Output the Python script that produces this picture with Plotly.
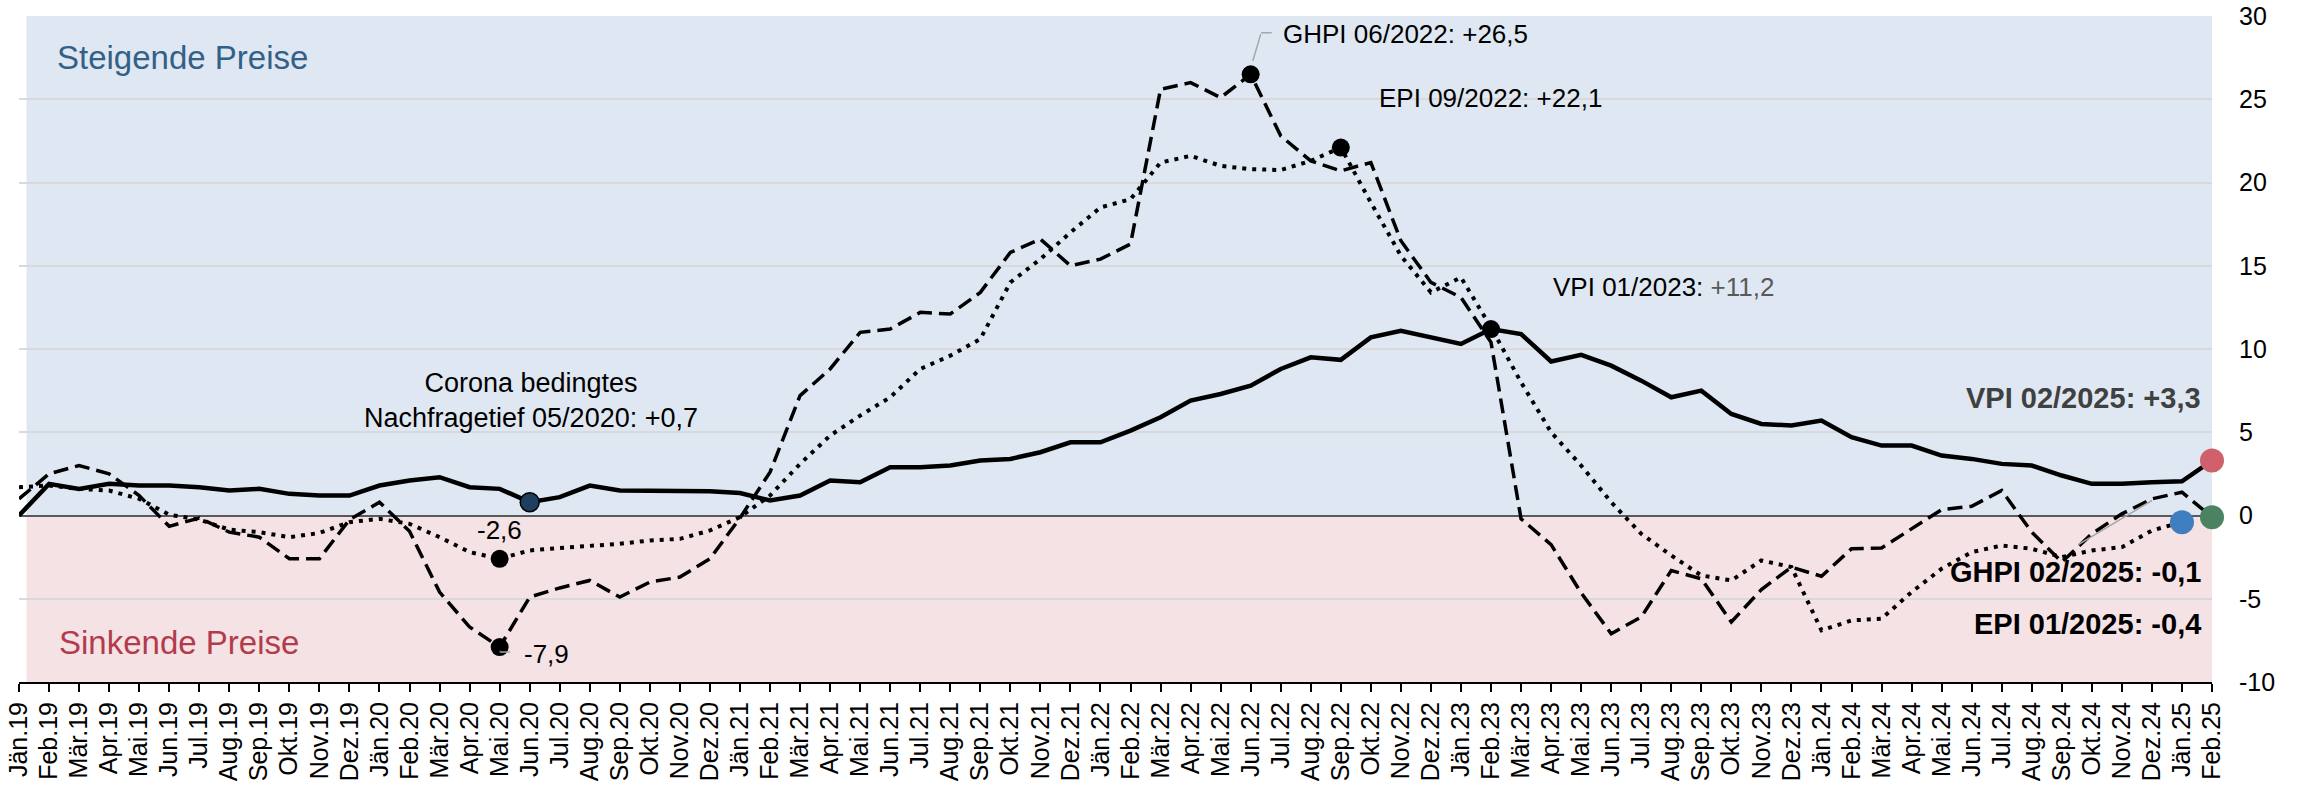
import plotly.graph_objects as go

# Monatsachse Jän.19 - Feb.25
months = ['Jän', 'Feb', 'Mär', 'Apr', 'Mai', 'Jun', 'Jul', 'Aug', 'Sep', 'Okt', 'Nov', 'Dez']
labels = [m + '.' + str(y) for y in range(19, 25) for m in months] + ['Jän.25', 'Feb.25']
xpos = list(range(len(labels)))

# Verbraucherpreisindex (VPI), Veränderung zum Vorjahr in %
vpi = [0.0, 1.9, 1.6, 1.9, 1.8, 1.8, 1.7, 1.5, 1.6, 1.3, 1.2, 1.2,
       1.8, 2.1, 2.3, 1.7, 1.6, 0.8, 1.1, 1.8, 1.5, 1.5, 1.45, 1.45,
       1.35, 0.9, 1.2, 2.1, 2.0, 2.9, 2.9, 3.0, 3.3, 3.4, 3.8, 4.4,
       4.4, 5.1, 5.9, 6.9, 7.3, 7.8, 8.8, 9.5, 9.35, 10.7, 11.1, 10.7,
       10.3, 11.2, 10.9, 9.25, 9.65, 9.0, 8.1, 7.1, 7.5, 6.1, 5.5, 5.4,
       5.7, 4.7, 4.2, 4.2, 3.6, 3.4, 3.1, 3.0, 2.4, 1.9, 1.9, 2.0,
       2.05, 3.3]

# Großhandelspreisindex (GHPI)
ghpi = [1.0, 2.5, 3.0, 2.5, 1.2, -0.65, -0.15, -1.0, -1.3, -2.6, -2.6, -0.25,
        0.8, -0.95, -4.6, -6.7, -7.9, -4.9, -4.35, -3.9, -4.9, -4.0, -3.7, -2.6,
        -0.15, 2.6, 7.2, 8.8, 11.0, 11.2, 12.2, 12.1, 13.4, 15.8, 16.6, 15.0,
        15.4, 16.3, 25.6, 26.0, 25.1, 26.5, 22.8, 21.3, 20.7, 21.2, 16.5, 14.0,
        13.1, 10.4, -0.2, -1.75, -4.65, -7.1, -6.1, -3.3, -3.8, -6.4, -4.45, -3.1,
        -3.65, -2.0, -1.95, -0.8, 0.35, 0.55, 1.5, -1.0, -2.8, -1.1, 0.1, 1.0,
        1.4, -0.1]

# Erzeugerpreisindex (EPI), letzter Wert 01/2025
epi = [1.7, 1.8, 1.6, 1.5, 1.0, 0.05, -0.25, -0.85, -1.0, -1.3, -1.05, -0.4,
       -0.2, -0.5, -1.3, -2.2, -2.6, -2.1, -1.95, -1.85, -1.7, -1.5, -1.4, -0.9,
       -0.1, 1.2, 3.1, 4.8, 6.0, 7.1, 8.8, 9.6, 10.6, 14.0, 15.4, 17.0,
       18.5, 19.0, 21.2, 21.6, 21.0, 20.8, 20.75, 21.3, 22.1, 18.8, 15.6, 13.4,
       14.3, 11.3, 8.0, 5.0, 3.0, 0.8, -1.1, -2.4, -3.6, -3.9, -2.7, -3.1,
       -6.9, -6.3, -6.2, -4.6, -3.2, -2.2, -1.8, -2.0, -2.5, -2.1, -1.9, -0.9,
       -0.4, None]

yticks = [-10, -5, 0, 5, 10, 15, 20, 25, 30]
yticktext = ['-10', '-5', '0', '5', '10', '15', '20', '25', '30']

FONT = 'Liberation Sans, Arial, sans-serif'

fig = go.Figure()

fig.add_trace(go.Scatter(x=xpos, y=vpi, mode='lines', name='VPI',
                         line=dict(color='black', width=4.5)))
fig.add_trace(go.Scatter(x=xpos, y=ghpi, mode='lines', name='GHPI',
                         line=dict(color='black', width=3.5, dash='15px,7px')))
fig.add_trace(go.Scatter(x=xpos, y=epi, mode='lines', name='EPI',
                         line=dict(color='black', width=4, dash='4px,6px')))

# markierte Punkte
black_pts = [(16, epi), (16, ghpi), (41, ghpi), (44, epi), (49, vpi)]
fig.add_trace(go.Scatter(x=[p[0] for p in black_pts], y=[p[1][p[0]] for p in black_pts],
                         mode='markers', marker=dict(color='black', size=18)))
fig.add_trace(go.Scatter(x=[17], y=[vpi[17]], mode='markers',
                         marker=dict(color='#1f3f60', size=19, line=dict(color='black', width=1.5))))
fig.add_trace(go.Scatter(x=[73], y=[vpi[73]], mode='markers', cliponaxis=False,
                         marker=dict(color='#d0606b', size=24)))
fig.add_trace(go.Scatter(x=[72], y=[epi[72]], mode='markers', cliponaxis=False,
                         marker=dict(color='#3f7fc0', size=24)))
fig.add_trace(go.Scatter(x=[73], y=[ghpi[73]], mode='markers', cliponaxis=False,
                         marker=dict(color='#4a8262', size=24)))

# Hintergrund steigend / sinkend
fig.add_shape(type='rect', xref='x', yref='y', x0=0.25, x1=73, y0=0, y1=30,
              fillcolor='#dfe8f2', line_width=0, layer='below')
fig.add_shape(type='rect', xref='x', yref='y', x0=0.25, x1=73, y0=-10, y1=0,
              fillcolor='#f5e2e5', line_width=0, layer='below')

ann = dict(font=dict(family=FONT, size=26, color='black'), showarrow=False)
fig.add_annotation(x=1.2, y=27.5, text='Steigende Preise', xanchor='left',
                   font=dict(family=FONT, size=33, color='#336088'), showarrow=False)
fig.add_annotation(x=1.25, y=-7.6, text='Sinkende Preise', xanchor='left',
                   font=dict(family=FONT, size=33, color='#b23c4c'), showarrow=False)
fig.add_annotation(x=17.03, y=6.9, text='Corona bedingtes<br>Nachfragetief 05/2020: +0,7',
                   align='center', font=dict(family=FONT, size=27, color='black'),
                   showarrow=False)
fig.add_annotation(x=42.0, y=28.9, text='GHPI 06/2022: +26,5', xanchor='left', **ann)
fig.add_annotation(x=45.2, y=25.1, text='EPI 09/2022: +22,1', xanchor='left', **ann)
fig.add_annotation(x=51.0, y=13.7, text="VPI 01/2023: <span style='color:#595959'>+11,2</span>",
                   xanchor='left', **ann)
fig.add_annotation(x=16.0, y=-0.85, text='-2,6', **ann)
fig.add_annotation(x=16.75, y=-8.3, text='-7,9', xanchor='left', **ann)

bold = dict(family=FONT, size=29, color='black')
fig.add_annotation(x=72.7, y=7.05, text='<b>VPI 02/2025: +3,3</b>', xanchor='right',
                   font=dict(family=FONT, size=29, color='#404040'), showarrow=False)
fig.add_annotation(x=72.7, y=-3.4, text='<b>GHPI 02/2025: -0,1</b>', xanchor='right',
                   font=bold, showarrow=False)
fig.add_annotation(x=72.7, y=-6.5, text='<b>EPI 01/2025: -0,4</b>', xanchor='right',
                   font=bold, showarrow=False)

# Hinweislinien
lead = dict(text='', showarrow=True, arrowhead=0, arrowwidth=1.5, arrowcolor='#a6a6a6',
            axref='x', ayref='y')
fig.add_annotation(x=41.07, y=27.3, ax=41.35, ay=29.0, **lead)
fig.add_annotation(x=41.35, y=29.0, ax=41.75, ay=29.0, **lead)
fig.add_annotation(x=16.0, y=-8.1, ax=16.0, ay=-8.2, **lead)
fig.add_annotation(x=16.0, y=-8.2, ax=16.4, ay=-8.2, **lead)
fig.add_annotation(x=71.0, y=0.9, ax=68.5, ay=-1.8, **lead)

fig.update_layout(
    width=2310, height=785,
    margin=dict(l=19, r=98, t=16, b=103, autoexpand=False),
    paper_bgcolor='white',
    plot_bgcolor='white',
    showlegend=False,
    font=dict(family=FONT, color='black'),
    xaxis=dict(range=[0, 73], tickvals=xpos, ticktext=labels, tickangle=-90,
               tickfont=dict(family=FONT, size=25, color='black'),
               ticks='outside', ticklen=8, tickwidth=1.5, tickcolor='black',
               showline=True, linecolor='black', linewidth=2,
               showgrid=False, zeroline=False),
    yaxis=dict(range=[-10, 30], side='right', tickvals=yticks, ticktext=yticktext,
               tickfont=dict(family=FONT, size=25, color='black'),
               showgrid=True, gridcolor='#d9d9d9', gridwidth=2,
               zeroline=True, zerolinecolor='#595959', zerolinewidth=1.5,
               showline=False, ticks='', ticklabelstandoff=26),
)

# Seitenrand des Browsers entfernen, damit die Grafik bei 0,0 beginnt
fig.write_html('out.html', config={'displayModeBar': False},
               post_script="document.body.style.margin='0px';")
